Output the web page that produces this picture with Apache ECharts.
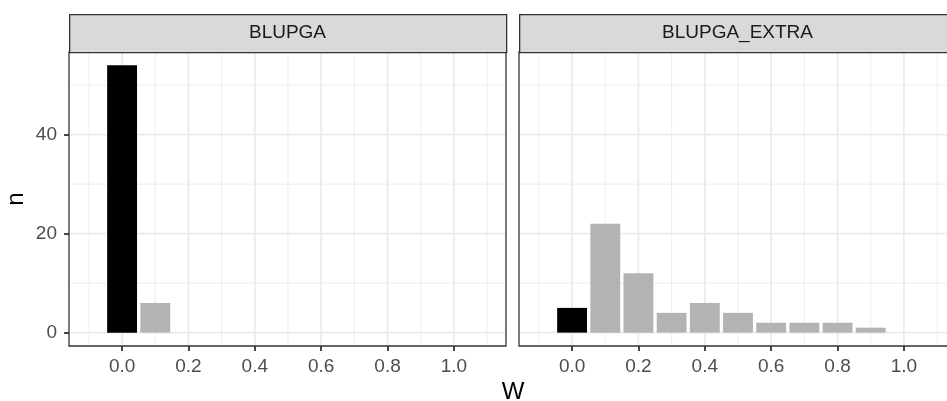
<!DOCTYPE html>
<html><head><meta charset="utf-8">
<script src="https://cdn.jsdelivr.net/npm/echarts@6/dist/echarts.min.js"></script>
<style>html,body{margin:0;padding:0;background:#fff}#c{width:947px;height:401px}</style>
</head><body><div id="c"></div>
<script>
// ---- data ----
const facetNames = ['BLUPGA', 'BLUPGA_EXTRA'];
const wBlupga = [0.0, 0.1];
const nBlupga = [54, 6];
const wExtra = [0.0, 0.1, 0.2, 0.3, 0.4, 0.5, 0.6, 0.7, 0.8, 0.9];
const nExtra = [5, 22, 12, 4, 6, 4, 2, 2, 2, 1];
const xTicks = [0, 0.2, 0.4, 0.6, 0.8, 1.0];
const xMinor = [-0.1, 0.1, 0.3, 0.5, 0.7, 0.9, 1.1];
const yTicks = [0, 20, 40];
const yMinor = [10, 30, 50];
const xTitle = 'W';
const yTitle = 'n';

// ---- styling ----
const FONT = '"Liberation Sans", Arial, sans-serif';
const barW = 0.09;
const xMin = -0.16, xMax = 1.157;
const yMin = -2.7, yMax = 56.7;
const panels = [{left: 69, width: 437}, {left: 519, width: 437}];
const TOP = 52, H = 294;

const chart = echarts.init(document.getElementById('c'));

function barItem(params, api) {
  const x = api.value(0), y = api.value(1);
  const p0 = api.coord([x - barW / 2, y]);
  const p1 = api.coord([x + barW / 2, 0]);
  return {type: 'rect',
    shape: {x: p0[0], y: p0[1], width: p1[0] - p0[0], height: p1[1] - p0[1]},
    style: {fill: x === 0 ? '#000000' : '#B3B3B3'}};
}
function gridItem(dir, width) {
  return function (params, api) {
    const cs = params.coordSys;
    const v = api.value(0);
    if (dir === 'h') {
      const y = api.coord([0, v])[1];
      return {type: 'line', shape: {x1: cs.x + 1, y1: y, x2: cs.x + cs.width - 1, y2: y},
        style: {stroke: '#EBEBEB', lineWidth: width}};
    } else {
      const x = api.coord([v, 0])[0];
      return {type: 'line', shape: {x1: x, y1: cs.y + 1, x2: x, y2: cs.y + cs.height - 1},
        style: {stroke: '#EBEBEB', lineWidth: width}};
    }
  };
}

const grids = panels.map(p => ({left: p.left, width: p.width, top: TOP, height: H,
  outerBoundsMode: 'none', containLabel: false,
  show: true, borderColor: '#333333', borderWidth: 1.3, backgroundColor: '#FFFFFF'}));

const xAxes = panels.map((p, i) => ({type: 'value', gridIndex: i, min: xMin, max: xMax, position: 'bottom',
  axisLine: {show: false, onZero: false}, splitLine: {show: false},
  axisTick: {show: true, length: 5, customValues: xTicks, lineStyle: {color: '#333333', width: 1.8}},
  axisLabel: {customValues: xTicks, formatter: v => v.toFixed(1), color: '#4D4D4D',
    fontFamily: FONT, fontSize: 19, margin: 11}}));

const yAxes = panels.map((p, i) => ({type: 'value', gridIndex: i, min: yMin, max: yMax, position: 'left',
  axisLine: {show: false, onZero: false}, splitLine: {show: false},
  axisTick: {show: i === 0, length: 5, customValues: yTicks, lineStyle: {color: '#333333', width: 1.8}},
  axisLabel: {show: i === 0, customValues: yTicks, color: '#4D4D4D',
    fontFamily: FONT, fontSize: 19, margin: 12}}));

const series = [];
const barData = [wBlupga.map((w, j) => [w, nBlupga[j]]), wExtra.map((w, j) => [w, nExtra[j]])];
panels.forEach((p, i) => {
  series.push({type: 'custom', xAxisIndex: i, yAxisIndex: i, z: 1, silent: true,
    renderItem: gridItem('h', 0.9), data: yMinor.map(v => [v])});
  series.push({type: 'custom', xAxisIndex: i, yAxisIndex: i, z: 1, silent: true,
    renderItem: gridItem('v', 0.9), data: xMinor.map(v => [v])});
  series.push({type: 'custom', xAxisIndex: i, yAxisIndex: i, z: 1, silent: true,
    renderItem: gridItem('h', 1.8), data: yTicks.map(v => [v])});
  series.push({type: 'custom', xAxisIndex: i, yAxisIndex: i, z: 1, silent: true,
    renderItem: gridItem('v', 1.8), data: xTicks.map(v => [v])});
  series.push({type: 'custom', name: facetNames[i], xAxisIndex: i, yAxisIndex: i, z: 2,
    renderItem: barItem, data: barData[i]});
});

const graphic = [];
panels.forEach((p, i) => {
  graphic.push({type: 'rect', left: p.left, top: 14, z: 10,
    shape: {width: p.width, height: 38},
    style: {fill: '#D9D9D9', stroke: '#333333', lineWidth: 1.3}});
  graphic.push({type: 'text', z: 11, x: p.left + p.width / 2, y: 33,
    style: {text: facetNames[i], fill: '#1A1A1A', font: '19px ' + FONT, align: 'center', verticalAlign: 'middle'}});
});
graphic.push({type: 'text', x: 513, y: 392,
  style: {text: xTitle, fill: '#000000', font: '24px ' + FONT, align: 'center', verticalAlign: 'middle'}});
graphic.push({type: 'text', x: 16, y: 199, rotation: Math.PI / 2,
  style: {text: yTitle, fill: '#000000', font: '24px ' + FONT, align: 'center', verticalAlign: 'middle'}});

chart.setOption({animation: false, backgroundColor: '#FFFFFF', grid: grids, xAxis: xAxes, yAxis: yAxes, series, graphic});
</script></body></html>
